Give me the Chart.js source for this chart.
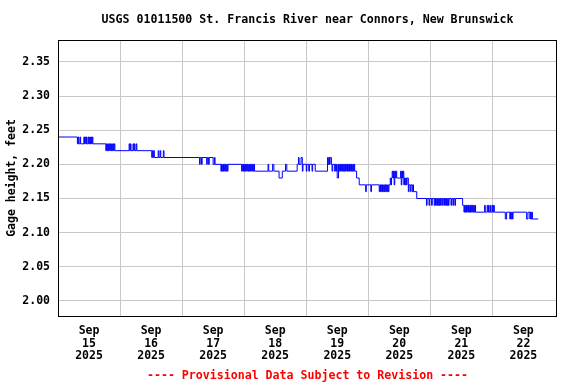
<!DOCTYPE html>
<html>
<head>
<meta charset="utf-8">
<script src="https://cdn.jsdelivr.net/npm/chart.js@4/dist/chart.umd.min.js"></script>
<style>
  html, body { margin: 0; padding: 0; background: #fff; }
  #wrap { width: 576px; height: 384px; position: relative; }
</style>
</head>
<body>
<div id="wrap"><canvas id="chart"></canvas></div>
<script>
const TITLE = 'USGS 01011500 St. Francis River near Connors, New Brunswick';
const FOOTER = '---- Provisional Data Subject to Revision ----';
const Y_TITLE = 'Gage height, feet';

// x labels, one per day (time axis is hours after Sep 15 00:00)
const monthLabel = 'Sep';
const dayLabels  = ['15', '16', '17', '18', '19', '20', '21', '22'];
const yearLabel  = '2025';
const yTicks     = [2.00, 2.05, 2.10, 2.15, 2.20, 2.25, 2.30, 2.35];

// [hours since Sep 15 00:00, gage height ft] at each change of reading
const readings = [
  [0,2.24],[7.5,2.23],[7.75,2.24],[8,2.23],[8.5,2.24],[8.75,2.23],
  [10,2.24],[10.25,2.23],[10.5,2.24],[10.75,2.23],[11,2.24],[11.25,2.23],[11.75,2.24],[12,2.23],
  [12.25,2.24],[12.5,2.23],[12.75,2.24],[13,2.23],[13.25,2.24],[13.5,2.23],
  [18.5,2.22],[18.75,2.23],[19,2.22],[19.25,2.23],[19.5,2.22],[19.75,2.23],[20,2.22],[20.25,2.23],
  [20.5,2.22],[20.75,2.23],[21,2.22],[21.25,2.23],[21.5,2.22],[21.75,2.23],[22,2.22],
  [27.5,2.23],[27.75,2.22],[28,2.23],[28.25,2.22],[29,2.23],[29.25,2.22],[29.5,2.23],[29.75,2.22],
  [30.25,2.23],[30.5,2.22],
  [36.25,2.21],[36.5,2.22],[36.75,2.21],[37,2.22],[37.25,2.21],[38.75,2.22],[39,2.21],[39.5,2.22],
  [39.75,2.21],[40.75,2.22],[41,2.21],
  [54.75,2.20],[55,2.21],[55.5,2.20],[55.75,2.21],[57.5,2.20],[57.75,2.21],[58.25,2.20],[58.5,2.21],
  [60,2.20],[60.5,2.21],[60.75,2.20],
  [63,2.19],[63.25,2.20],[63.5,2.19],[63.75,2.20],[64,2.19],[64.25,2.20],[64.5,2.19],[64.75,2.20],
  [65,2.19],[65.25,2.20],[65.5,2.19],[65.75,2.20],
  [71,2.19],[71.25,2.20],[71.5,2.19],[71.75,2.20],[72,2.19],[72.25,2.20],[72.5,2.19],[72.75,2.20],
  [73,2.19],[73.25,2.20],[73.5,2.19],[73.75,2.20],[74,2.19],[74.25,2.20],[74.5,2.19],[74.75,2.20],
  [75,2.19],[75.25,2.20],[75.5,2.19],[75.75,2.20],[76,2.19],
  [81.25,2.20],[81.5,2.19],[83,2.20],[83.5,2.19],[85.5,2.18],[86.75,2.19],[88,2.20],[88.5,2.19],
  [92.5,2.20],[93,2.21],[93.25,2.20],[94,2.21],[94.5,2.19],[94.75,2.20],[96,2.19],[96.25,2.20],
  [97,2.19],[97.25,2.20],[98.25,2.19],[98.5,2.20],[99.5,2.19],
  [104.25,2.21],[104.5,2.20],[104.75,2.21],[105,2.20],[105.25,2.21],[105.75,2.20],[106,2.19],[106.25,2.20],
  [107,2.19],[107.25,2.20],[107.5,2.19],[107.75,2.20],[108,2.18],[108.5,2.20],[108.75,2.19],[109,2.20],
  [109.25,2.19],[109.5,2.20],[109.75,2.19],[110,2.20],[110.25,2.19],[110.5,2.20],[110.75,2.19],[111,2.20],
  [111.25,2.19],[111.5,2.20],[111.75,2.19],[112,2.20],[112.25,2.19],[112.5,2.20],[112.75,2.19],[113,2.20],
  [113.25,2.19],[113.5,2.20],[113.75,2.19],[114,2.20],[114.25,2.19],[114.5,2.20],[114.75,2.19],
  [115.5,2.18],[116.5,2.17],[119,2.16],[119.25,2.17],[121,2.16],[121.25,2.17],
  [124.25,2.16],[124.5,2.17],[124.75,2.16],[125,2.17],[125.25,2.16],[125.5,2.17],[125.75,2.16],[126,2.17],
  [126.25,2.16],[126.5,2.17],[126.75,2.16],[127,2.17],[127.25,2.16],[127.5,2.17],[127.75,2.16],[128,2.17],
  [128.5,2.18],[128.75,2.17],[129,2.18],[129.25,2.19],[129.5,2.18],[129.75,2.19],[130,2.17],[130.25,2.19],
  [130.5,2.18],[130.75,2.19],[131,2.18],[132.5,2.19],[132.75,2.17],[133,2.19],[133.25,2.18],[133.5,2.19],
  [133.75,2.17],[134,2.18],[134.25,2.17],[134.5,2.18],[134.75,2.17],[135,2.18],[135.5,2.16],[135.75,2.17],
  [136.25,2.16],[136.5,2.17],[137,2.16],[137.25,2.17],[137.5,2.16],[138.75,2.15],
  [142.5,2.14],[142.75,2.15],[143.5,2.14],[143.75,2.15],[144.5,2.14],[144.75,2.15],[145.5,2.14],[145.75,2.15],
  [146,2.14],[146.25,2.15],[146.5,2.14],[146.75,2.15],[147,2.14],[147.25,2.15],[147.5,2.14],[147.75,2.15],
  [148,2.14],[148.25,2.15],[148.75,2.14],[149,2.15],[149.5,2.14],[149.75,2.15],[150,2.14],[150.25,2.15],
  [150.5,2.14],[150.75,2.15],[151,2.14],[151.25,2.15],[152,2.14],[152.25,2.15],[152.75,2.14],[153,2.15],
  [153.5,2.14],[153.75,2.15],
  [156.5,2.14],[157,2.13],[157.25,2.14],[157.5,2.13],[157.75,2.14],[158,2.13],[158.25,2.14],[158.5,2.13],
  [158.75,2.14],[159,2.13],[159.25,2.14],[159.5,2.13],[159.75,2.14],[160,2.13],[160.25,2.14],[160.5,2.13],
  [160.75,2.14],[161,2.13],[161.25,2.14],[161.5,2.13],
  [165,2.14],[165.25,2.13],[166,2.14],[166.25,2.13],[166.5,2.14],[166.75,2.13],[167.25,2.14],[167.5,2.13],
  [168,2.14],[168.25,2.13],[168.5,2.14],[168.75,2.13],
  [173,2.12],[173.5,2.13],[174.75,2.12],[175,2.13],[175.25,2.12],[175.5,2.13],[175.75,2.12],[176,2.13],
  [181.25,2.12],[181.75,2.13],[182.5,2.12],[182.75,2.13],[183,2.12],[183.25,2.13],[183.5,2.12],[185.75,2.12]
];

const FONT = 'DejaVu Sans Mono';
Chart.defaults.font.family = FONT;
Chart.defaults.font.size = 11.5;
Chart.defaults.font.weight = 'bold';
Chart.defaults.color = '#000';

// title + footer centred over the plot area, and the black frame
const framePlugin = {
  id: 'frame',
  afterDraw(chart) {
    const { ctx, chartArea: a } = chart;
    ctx.save();
    ctx.strokeStyle = '#000';
    ctx.lineWidth = 1;
    ctx.strokeRect(a.left + 0.5, a.top + 0.5, a.right - a.left - 1, a.bottom - a.top);
    ctx.font = 'bold 11.6px "' + FONT + '"';
    ctx.textAlign = 'center';
    ctx.textBaseline = 'middle';
    const cx = (a.left + a.right) / 2;
    ctx.fillStyle = '#000';
    ctx.fillText(TITLE, cx, 20);
    ctx.fillStyle = '#ff0000';
    ctx.fillText(FOOTER, cx, 376);
    ctx.restore();
  }
};

const xTickValues = [];
for (let h = 12; h <= 180; h += 12) xTickValues.push(h);

new Chart(document.getElementById('chart'), {
  type: 'line',
  data: {
    datasets: [{
      data: readings.map(r => ({ x: r[0], y: r[1] })),
      borderColor: '#0000ff',
      borderWidth: 1,
      pointRadius: 0,
      stepped: true,
      fill: false
    }]
  },
  options: {
    responsive: true,
    maintainAspectRatio: false,
    animation: false,
    devicePixelRatio: 1,
    layout: { padding: { top: 40, right: 19, bottom: 0, left: 0 } },
    plugins: { legend: { display: false }, tooltip: { enabled: false } },
    scales: {
      x: {
        type: 'linear',
        min: 0,
        max: 193,
        afterFit(s) { s.height = 68; },
        afterBuildTicks(s) { s.ticks = xTickValues.map(v => ({ value: v })); },
        grid: {
          drawTicks: false,
          color: c => (c.tick && c.tick.value % 24 === 0) ? '#c8c8c8' : 'rgba(0,0,0,0)'
        },
        border: { display: false },
        ticks: {
          autoSkip: false,
          maxRotation: 0,
          padding: 9,
          font: { lineHeight: 1.08 },
          callback: v => (v % 24 === 12) ? [monthLabel, dayLabels[Math.floor(v / 24)], yearLabel] : ''
        }
      },
      y: {
        min: 1.978,
        max: 2.382,
        afterFit(s) { s.width = 58; },
        afterBuildTicks(s) { s.ticks = yTicks.map(v => ({ value: v })); },
        grid: { drawTicks: false, color: '#c8c8c8' },
        border: { display: false },
        ticks: { padding: 8, callback: v => v.toFixed(2) },
        title: { display: true, text: Y_TITLE, padding: { top: 5, bottom: 0 } }
      }
    }
  },
  plugins: [framePlugin]
});
</script>
</body>
</html>
